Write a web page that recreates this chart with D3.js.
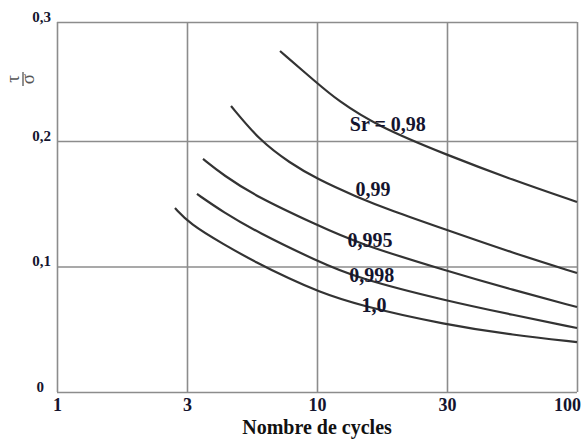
<!DOCTYPE html>
<html><head><meta charset="utf-8">
<script src="https://cdn.jsdelivr.net/npm/d3@7"></script>
<style>body{margin:0;background:#fff} svg{display:block}</style>
</head><body><svg id="c" width="583" height="439"></svg>
<script>
// ---- data ----
const xTicks = [1, 3, 10, 30, 100];
const xTickLabels = ["1", "3", "10", "30", "100"];
const yTicks = [0, 0.1, 0.2, 0.3];
const yTickLabels = ["0", "0,1", "0,2", "0,3"];
const seriesNames = ["Sr = 0,98", "0,99", "0,995", "0,998", "1,0"];

const cycles098 = [7.1, 10, 11.84, 16.6, 30, 55.3, 100];
const ratio098  = [0.2756, 0.2487, 0.2345, 0.2126, 0.1888, 0.1689, 0.1514];
const cycles099 = [4.51, 5.9, 7.79, 10, 14.0, 18.5, 30, 55.3, 100];
const ratio099  = [0.2294, 0.2, 0.1825, 0.1697, 0.1554, 0.145, 0.1291, 0.1108, 0.0948];
const cycles0995 = [3.48, 4.19, 5.74, 10, 14.0, 30, 55.3, 100];
const ratio0995  = [0.1857, 0.1729, 0.1554, 0.1331, 0.1187, 0.0964, 0.0813, 0.0677];
const cycles0998 = [3.29, 4.19, 5.74, 10, 14.0, 30, 55.3, 100];
const ratio0998  = [0.1578, 0.1434, 0.1275, 0.1044, 0.0908, 0.0725, 0.0614, 0.051];
const cycles100 = [2.71, 3.08, 4.19, 5.74, 7.79, 10, 14.0, 30, 55.3, 100];
const ratio100  = [0.1466, 0.1339, 0.1179, 0.1028, 0.090, 0.0805, 0.0693, 0.0534, 0.0454, 0.0398];

// label anchor positions in data units (cycles, ratio)
const labelCycles = [18.2, 16.05, 15.65, 15.9, 16.2];
const labelRatio  = [0.208, 0.1562, 0.1159, 0.0877, 0.0637];

// ---- layout ----
const mLeft = 57, mRight = 577, mTop = 22, mBottom = 392;
const svg = d3.select("#c");
const serif = "'Liberation Serif','Times New Roman',serif";
const txtColor = "#14142e";

// x: equally spaced 1-3-10-30-100 (piecewise log)
const xRange = xTicks.map((d, i) => mLeft + i * (mRight - mLeft) / (xTicks.length - 1));
const x = d3.scaleLog().domain(xTicks).range(xRange);
const y = d3.scaleLinear().domain(yTicks).range([mBottom, 266.5, 141, mTop]);

// grid via axes
const gx = svg.append("g").attr("transform", `translate(0,${mBottom})`)
  .call(d3.axisBottom(x).tickValues(xTicks).tickSize(-(mBottom - mTop))
        .tickFormat((d, i) => xTickLabels[i]).tickPadding(5));
gx.select(".domain").remove();
gx.selectAll(".tick line").attr("stroke", "#8c8c8c").attr("stroke-width", 1.6);
gx.selectAll(".tick text").attr("font-family", serif).attr("font-weight", "bold")
  .attr("font-size", 18).attr("fill", txtColor).attr("dy", "0.8em")
  .attr("dx", (d, i) => i === xTicks.length - 1 ? -10 : 0);

const gy = svg.append("g").attr("transform", `translate(${mLeft},0)`)
  .call(d3.axisLeft(y).tickValues(yTicks).tickSize(-(mRight - mLeft))
        .tickFormat((d, i) => yTickLabels[i]).tickPadding(6));
gy.select(".domain").remove();
gy.selectAll(".tick line").attr("stroke", "#8c8c8c").attr("stroke-width", 1.6);
gy.selectAll(".tick text").attr("font-family", serif).attr("font-weight", "bold")
  .attr("font-size", 15).attr("fill", txtColor).attr("dy", "-0.05em")
  .attr("dx", (d, i) => i === 0 ? -7 : 0);

// curves
const seriesX = [cycles098, cycles099, cycles0995, cycles0998, cycles100];
const seriesY = [ratio098, ratio099, ratio0995, ratio0998, ratio100];
const line = d3.line().x(d => x(d[0])).y(d => y(d[1])).curve(d3.curveBasis);
seriesX.forEach((xs, k) => {
  const pts = xs.map((v, i) => [v, seriesY[k][i]]);
  svg.append("path").attr("d", line(pts)).attr("fill", "none")
    .attr("stroke", "#333").attr("stroke-width", 2.2);
});

// curve labels
seriesNames.forEach((name, k) => {
  svg.append("text").attr("x", x(labelCycles[k])).attr("y", y(labelRatio[k]))
    .attr("text-anchor", "middle").attr("font-family", serif).attr("font-weight", "bold")
    .attr("font-size", 20).attr("fill", txtColor).text(name);
});

// axis titles
svg.append("text").attr("x", x(10)).attr("y", 434)
  .attr("text-anchor", "middle").attr("font-family", serif).attr("font-weight", "bold")
  .attr("font-size", 20).attr("fill", "#111").text("Nombre de cycles");

const yt = svg.append("g").attr("transform", "translate(23,79) rotate(-90)");
yt.append("text").attr("x", 0).attr("y", -4).attr("text-anchor", "middle")
  .attr("font-family", serif).attr("font-size", 19).attr("fill", "#555").text("τ");
yt.append("line").attr("x1", -7).attr("x2", 7).attr("y1", 0).attr("y2", 0)
  .attr("stroke", "#555").attr("stroke-width", 1.3);
yt.append("text").attr("x", 0).attr("y", 11).attr("text-anchor", "middle")
  .attr("font-family", serif).attr("font-size", 19).attr("fill", "#555").text("σ");
</script></body></html>
